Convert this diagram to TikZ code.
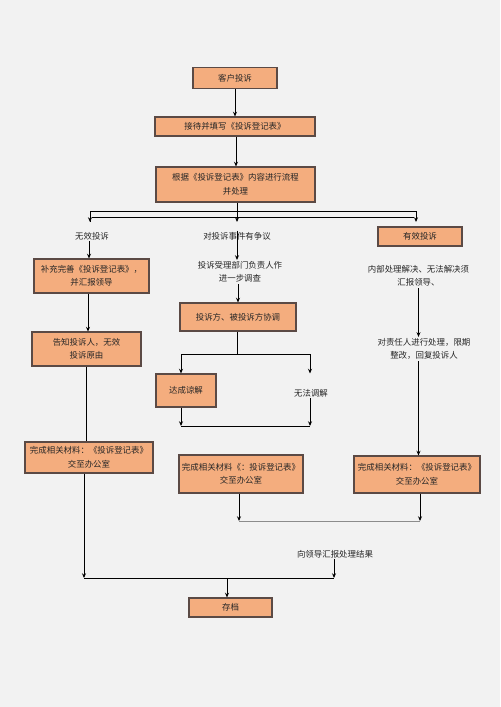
\documentclass[tikz,border=0pt]{standalone}
\usepackage{fontspec}
\newfontfamily\cjk{Noto Sans CJK SC}
\usepackage{tikz}
\usetikzlibrary{arrows.meta, positioning}
\definecolor{boxfill}{HTML}{F4AD7E}
\definecolor{boxline}{HTML}{5B4A45}
\definecolor{bgcol}{HTML}{F2F2F2}
\newdimen\pxu \pxu=0.03cm

\begin{document}
\begin{tikzpicture}[
        x=0.03cm, y=-0.03cm,
        font=\cjk\fontsize{7.2}{11.5}\selectfont,
        box/.style={draw=boxline, fill=boxfill, line width=0.9pt, align=center, inner sep=0pt, text=black!85},
        txt/.style={align=center, inner sep=1pt, text=black!85},
        arr/.style={-{Stealth[length=4pt, width=3.4pt]}, line width=0.8pt},
        ln/.style={line width=0.8pt},
        gln/.style={line width=0.8pt, black!45}
    ]
        % 背景
        \fill[bgcol] (0,0) rectangle (500,707);
        \useasboundingbox (0,0) rectangle (500,707);

        % 上部
        \node[box, minimum width=84\pxu, minimum height=21\pxu] (kehu) at (235,78) {客户投诉};
        \node[box, minimum width=160\pxu, minimum height=19\pxu] (jiedai) at (235,126.5) {接待并填写《投诉登记表》};
        \node[box, minimum width=159\pxu, minimum height=35\pxu] (genju) at (235.5,184.5) {根据《投诉登记表》内容进行流程\\并处理};

        % 三个分支
        \node[txt] (wuxiao) at (92,236) {无效投诉};
        \node[txt] (zhengyi) at (237,236) {对投诉事件有争议};
        \node[box, minimum width=84\pxu, minimum height=19\pxu] (youxiao) at (420,236.5) {有效投诉};

        % 左列
        \node[box, minimum width=115\pxu, minimum height=34\pxu] (buchong) at (91.5,276) {补充完善《投诉登记表》，\\并汇报领导};
        \node[box, minimum width=109\pxu, minimum height=34\pxu] (gaozhi) at (86.5,349) {告知投诉人，无效\\投诉原由};
        \node[box, minimum width=128\pxu, minimum height=31\pxu] (wanchengL) at (89,457.5) {完成相关材料：《投诉登记表》\\交至办公室};

        % 中列
        \node[txt] (shouli) at (240,272) {投诉受理部门负责人作\\进一步调查};
        \node[box, minimum width=116\pxu, minimum height=28\pxu] (xietiao) at (238,317) {投诉方、被投诉方协调};
        \node[box, minimum width=60\pxu, minimum height=33\pxu] (liangjie) at (186,390.5) {达成谅解};
        \node[txt] (wufa) at (311,393) {无法调解};
        \node[box, minimum width=124\pxu, minimum height=38\pxu] (wanchengM) at (241,474) {完成相关材料《：投诉登记表》\\交至办公室};

        % 右列
        \node[txt] (neibu) at (418.5,276) {内部处理解决、无法解决须\\汇报领导、};
        \node[txt] (zeren) at (424,349) {对责任人进行处理，限期\\整改，回复投诉人};
        \node[box, minimum width=126\pxu, minimum height=37\pxu] (wanchengR) at (417,474.5) {完成相关材料：《投诉登记表》\\交至办公室};

        % 底部
        \node[txt] (huibao) at (335,554) {向领导汇报处理结果};
        \node[box, minimum width=83\pxu, minimum height=19\pxu] (cundang) at (230.5,607.5) {存档};

        % 辅助点
        \coordinate (bl) at (90,222);
        \coordinate (br) at (416,222);
        \coordinate (c1) at (237,354);
        \coordinate (c2) at (181,354);
        \coordinate (c3) at (310,354);
        \coordinate (d1) at (181,426);
        \coordinate (d2) at (310,426);
        \coordinate (e1) at (239,521);
        \coordinate (e2) at (420,521);
        \coordinate (f1) at (84,578);
        \coordinate (f2) at (334,578);
        \coordinate (f3) at (227,578);

        % 上部连线
        \draw[arr] (kehu) -- (jiedai);
        \draw[arr] (jiedai.south -| 236,0) -- (genju.north -| 236,0);
        \draw[arr] (bl) -- ++(0,-11) -| (br);
        \draw[arr] (bl) ++(0,-11) -- (bl);
        \draw[ln] (92,217) -- (414,217);
        \draw[arr] (genju.south -| zhengyi) -- (zhengyi.north |- bl);

        % 左列连线
        \draw[arr] (wuxiao.south -| 89,0) -- (buchong.north -| 89,0);
        \draw[arr] (buchong.south -| gaozhi.north) ++(1.5,0) -- ++(0,38);
        \draw[ln] (gaozhi.south) ++(-0.5,0) coordinate (g1) -- (g1 |- wanchengL.north);

        % 中列连线
        \draw[arr] (zhengyi.north) -- (zhengyi.north |- shouli.north);
        \draw[arr] (shouli.south -| xietiao.north) -- (xietiao.north);
        \draw[ln] (xietiao.south -| c1) -- (c1);
        \draw[ln] (c2) -- (c3);
        \draw[arr] (c2) -- (c2 |- liangjie.north);
        \draw[arr] (c3) -- (c3 |- liangjie.north);
        \draw[arr] (liangjie.south -| d1) -- (d1);
        \draw[arr] (wufa.south -| d2) -- (d2);
        \draw[ln] (d1) -- (d2);

        % 右列连线
        \draw[arr] (neibu.south) -- (neibu.south |- zeren.north);
        \draw[arr] (zeren.south -| neibu.south) -- (neibu.south |- wanchengR.north);

        % 底部连线
        \draw[arr] (wanchengM.south -| e1) -- (e1);
        \draw[arr] (wanchengR.south -| e2) -- (e2);
        \draw[gln] (e1) -- (e2);
        \draw[arr] (wanchengL.south -| f1) -- (f1);
        \draw[arr] (huibao.south -| f2) -- (f2);
        \draw[ln] (f1) -- (f2);
        \draw[arr] (f3) -- (f3 |- cundang.north);

    \end{tikzpicture}
\end{document}
